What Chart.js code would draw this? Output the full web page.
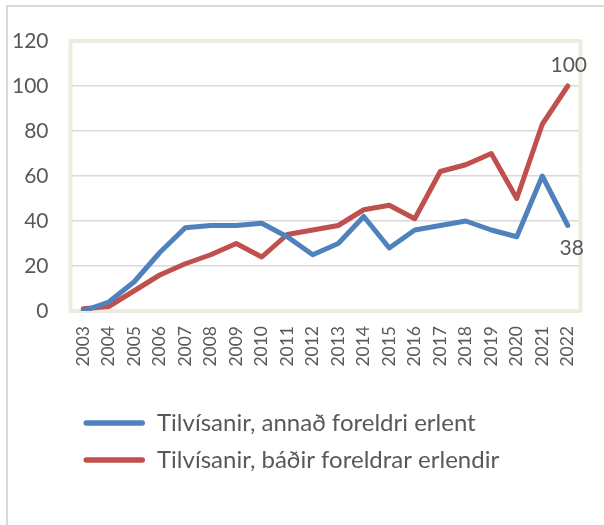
<!DOCTYPE html>
<html><head><meta charset="utf-8">
<script src="https://cdn.jsdelivr.net/npm/chart.js@4"></script>
<style>
html,body{margin:0;padding:0;background:#fff;}
#wrap{position:relative;width:604px;height:525px;overflow:hidden;}
#frame{position:absolute;left:6px;top:5px;right:-4px;bottom:-4px;border-left:2px solid #d9d9d9;border-top:2px solid #d9d9d9;}
canvas{position:absolute;left:0;top:0;}
</style></head><body>
<div id="wrap"><div id="frame"></div><canvas id="c" width="604" height="525"></canvas></div>
<script>
const years = ['2003','2004','2005','2006','2007','2008','2009','2010','2011','2012','2013','2014','2015','2016','2017','2018','2019','2020','2021','2022'];
const seriesNames = ['Tilvísanir, annað foreldri erlent', 'Tilvísanir, báðir foreldrar erlendir'];
const annadForeldriErlent = [0, 4, 13, 26, 37, 38, 38, 39, 33, 25, 30, 42, 28, 36, 38, 40, 36, 33, 60, 38];
const badirForeldrarErlendir = [1, 2, 9, 16, 21, 25, 30, 24, 34, 36, 38, 45, 47, 41, 62, 65, 70, 50, 83, 100];
const yMin = 0, yMax = 120, yStep = 20;

const TEXT = '#595959';
Chart.defaults.font.family = 'Lato';
Chart.defaults.color = TEXT;

const plotFrame = {
  id: 'plotFrame',
  beforeDatasetsDraw(chart) {
    const {ctx, chartArea: a} = chart;
    ctx.save();
    ctx.strokeStyle = '#EEECE1';
    ctx.lineWidth = 4;
    ctx.lineJoin = 'round';
    ctx.strokeRect(a.left, a.top, a.right - a.left, a.bottom - a.top);
    ctx.restore();
  }
};

const endLabels = {
  id: 'endLabels',
  afterDatasetsDraw(chart, args, opts) {
    const {ctx} = chart;
    ctx.save();
    ctx.font = opts.size + 'px Lato';
    ctx.fillStyle = TEXT;
    ctx.textAlign = 'center';
    ctx.textBaseline = 'middle';
    chart.data.datasets.forEach((ds, i) => {
      const meta = chart.getDatasetMeta(i);
      const last = meta.data.length - 1;
      const pt = meta.data[last];
      const o = opts.offsets[i];
      ctx.fillText(String(ds.data[last]), pt.x + o.dx, pt.y + o.dy);
    });
    ctx.restore();
  }
};

new Chart(document.getElementById('c'), {
  type: 'line',
  data: {
    labels: years,
    datasets: [
      { label: seriesNames[0], data: annadForeldriErlent, borderColor: '#4F81BD', backgroundColor: '#4F81BD',
        borderWidth: 5, pointRadius: 0, tension: 0, fill: false, borderJoinStyle: 'round', borderCapStyle: 'round' },
      { label: seriesNames[1], data: badirForeldrarErlendir, borderColor: '#C0504D', backgroundColor: '#C0504D',
        borderWidth: 5, pointRadius: 0, tension: 0, fill: false, borderJoinStyle: 'round', borderCapStyle: 'round' }
    ]
  },
  options: {
    responsive: false,
    animation: false,
    devicePixelRatio: 1,
    layout: { padding: { top: 41, right: 9, bottom: 43, left: 0 } },
    scales: {
      x: {
        offset: true,
        grid: { display: false, drawTicks: false },
        border: { display: false },
        ticks: { minRotation: 90, maxRotation: 90, padding: 15, autoSkip: false, font: { size: 17.5 }, color: TEXT },
        afterFit(scale) { scale.height = 87; }
      },
      y: {
        min: yMin, max: yMax,
        grid: { color: '#D9D9D9', lineWidth: 1.5, drawTicks: false },
        border: { display: false },
        ticks: { stepSize: yStep, padding: 22, font: { size: 21 }, color: TEXT },
        afterFit(scale) { scale.width = 70.5; }
      }
    },
    plugins: {
      tooltip: { enabled: false },
      legend: {
        position: 'bottom',
        align: 'start',
        fullSize: false,
        labels: {
          boxWidth: 61.5, boxHeight: 5.5, padding: 13, color: TEXT, font: { size: 24 },
          generateLabels(chart) {
            return chart.data.datasets.map((ds, i) => ({
              text: ds.label, fillStyle: ds.borderColor, strokeStyle: ds.borderColor,
              lineWidth: 0, borderRadius: 2.75, hidden: false, datasetIndex: i, fontColor: TEXT
            }));
          }
        }
      },
      endLabels: { size: 21, offsets: [ { dx: 4, dy: 23 }, { dx: 1, dy: -21 } ] }
    }
  },
  plugins: [plotFrame, endLabels]
});
</script>
</body></html>
